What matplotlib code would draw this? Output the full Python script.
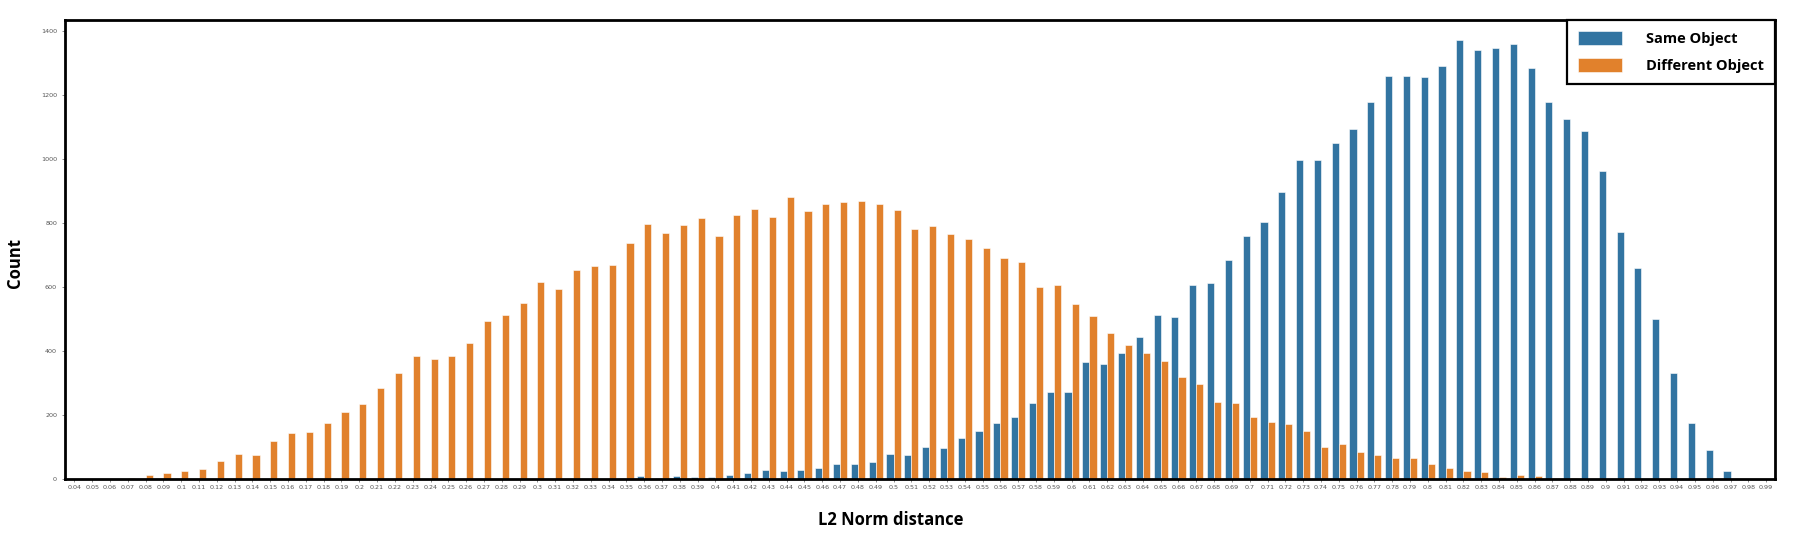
import matplotlib
matplotlib.use("Agg")
import matplotlib.pyplot as plt
import numpy as np

# L2 distance bins 0.04 ... 0.99
labels = ["%g" % (k / 100) for k in range(4, 100)]

same_object = [
    0, 0, 0, 0, 0, 0, 0, 0, 0, 0,
    0, 0, 0, 0, 0, 0, 0, 0, 0, 0,
    0, 0, 0, 0, 0, 0, 0, 0, 0, 0,
    0,
    4, 10, 5, 11, 6, 7, 14, 18, 29, 25,
    30, 36, 47, 47, 54, 79, 77, 100, 96, 130,
    149, 175, 193, 239, 273, 273, 365, 361, 393, 443,
    514, 508, 608, 613, 686, 760, 802, 896, 996, 998,
    1051, 1093, 1179, 1259, 1259, 1257, 1292, 1372, 1341, 1346,
    1361, 1285, 1179, 1125, 1089, 963, 772, 659, 501, 333,
    177, 91, 26, 0, 0,
]

different_object = [
    0, 0, 0, 4, 14, 19, 25, 31, 56, 80,
    74, 118, 143, 146, 174, 210, 236, 284, 333, 386,
    376, 386, 426, 493, 514, 551, 615, 594, 653, 666,
    670, 738, 798, 770, 795, 816, 761, 826, 845, 818,
    882, 838, 859, 866, 868, 861, 842, 782, 790, 765,
    750, 723, 691, 678, 601, 607, 547, 510, 456, 419,
    394, 369, 318, 297, 242, 239, 195, 180, 171, 152,
    99, 109, 85, 77, 67, 67, 46, 35, 27, 23,
    8, 12, 10, 5, 3, 0, 0, 0, 0, 0,
    0, 0, 0, 0, 0, 0,
]

x = np.arange(len(labels))
w = 0.4

fig = plt.figure(figsize=(18.03, 5.36), dpi=100)
ax = fig.add_axes([0.0363, 0.106, 0.9482, 0.8576])

ax.bar(x - w / 2, same_object, w, color="#3274a1", edgecolor="white", linewidth=0.4, label="Same Object")
ax.bar(x + w / 2, different_object, w, color="#e1812c", edgecolor="white", linewidth=0.4, label="Different Object")

ax.set_xlim(-0.5, len(labels) - 0.5)
ax.set_ylim(0, 1436)
ax.set_xticks(x)
ax.set_xticklabels(labels, fontsize=4.6, color="#555555")
ax.set_yticks(range(0, 1401, 200))
ax.tick_params(axis="y", labelsize=4.6, labelcolor="#555555", length=2.5, width=0.6, color="#777777")
ax.tick_params(axis="x", length=2.5, width=0.6, color="#777777", pad=2)

for s in ax.spines.values():
    s.set_linewidth(2)
    s.set_color("black")

ax.set_xlabel("L2 Norm distance", fontsize=12, fontweight="bold", family="Open Sans")
ax.xaxis.set_label_coords(0.483, -0.07)
ax.set_ylabel("Count", fontsize=12, fontweight="bold", family="Open Sans")
ax.yaxis.set_label_coords(-0.024, 0.47)

leg = ax.legend(loc="upper right", borderaxespad=0, fancybox=False, edgecolor="black",
                framealpha=1, prop={"family": "Open Sans", "weight": "bold", "size": 10.5},
                handlelength=3, handleheight=1.1, borderpad=0.8, labelspacing=0.8,
                handletextpad=1.6)
leg.get_frame().set_linewidth(1.6)

fig.savefig("out.png", dpi=100)
